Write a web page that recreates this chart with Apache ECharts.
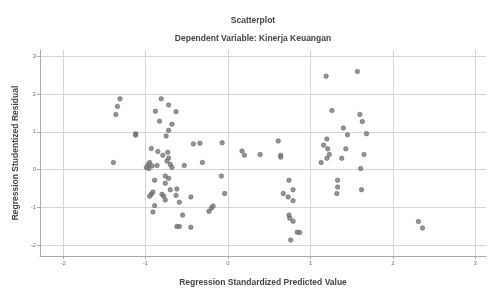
<!DOCTYPE html>
<html>
<head>
<meta charset="utf-8">
<script src="https://cdn.jsdelivr.net/npm/echarts@6/dist/echarts.min.js"></script>
<style>
  html, body { margin: 0; padding: 0; background: #fff; }
  #chart { width: 489px; height: 292px; }
</style>
</head>
<body>
<div id="chart"></div>
<script>
// predicted value (x) and studentized residual (y)
var predicted = [
    -1.31, -1.34, -1.36, -1.39, -1.12, -1.12,
    -0.81, -0.72, -0.88, -0.63, -0.83, -0.68, -0.72, -0.75, -0.93, -0.85,
    -0.73, -0.79, -0.72, -0.74, -0.42, -0.34, -0.07, 0.17, 0.20, -0.95,
    -0.97, -0.99, -0.96, -0.92, -0.86, -0.68, -0.70, -0.53, -0.31, -0.08,
    -0.76, -0.72, -0.89, -0.76, -0.70, -0.62, -0.91, -0.93, -0.95, -0.80,
    -0.78, -0.63, -0.76, -0.45, -0.04, -0.59, -0.89, -0.91, -0.20, -0.23,
    -0.18, -0.55, -0.62, -0.59, -0.45,
    1.19, 1.57, 1.26, 1.60, 1.63, 1.40, 1.45, 1.68, 1.20, 0.61,
    0.39, 0.64, 0.64, 1.16, 1.21, 1.43, 1.23, 1.65, 1.20, 1.38,
    1.13, 1.61, 0.74, 0.79, 0.67, 0.73, 0.79, 1.33, 1.33, 1.32,
    1.62, 0.74, 0.75, 0.79, 0.84, 0.87, 0.76, 2.31, 2.36
];
var residual = [
    1.87, 1.67, 1.46, 0.19, 0.95, 0.91,
    1.87, 1.71, 1.54, 1.53, 1.28, 1.20, 1.04, 0.89, 0.56, 0.48,
    0.46, 0.38, 0.31, 0.23, 0.68, 0.70, 0.71, 0.49, 0.38, 0.19,
    0.13, 0.06, 0.03, 0.10, 0.11, 0.06, 0.14, 0.11, 0.19, -0.17,
    -0.17, -0.23, -0.28, -0.36, -0.53, -0.51, -0.59, -0.65, -0.70, -0.65,
    -0.70, -0.68, -0.80, -0.72, -0.63, -0.86, -0.95, -1.12, -1.01, -1.10,
    -0.96, -1.20, -1.50, -1.50, -1.52,
    2.47, 2.59, 1.56, 1.46, 1.27, 1.10, 0.92, 0.95, 0.81, 0.76,
    0.40, 0.38, 0.33, 0.65, 0.55, 0.55, 0.40, 0.40, 0.30, 0.30,
    0.19, 0.03, -0.28, -0.53, -0.63, -0.72, -0.82, -0.28, -0.46, -0.63,
    -0.53, -1.20, -1.28, -1.36, -1.65, -1.66, -1.86, -1.37, -1.54
];
var xTicks = [-2, -1, 0, 1, 2, 3];
var yTicks = [-2, -1, 0, 1, 2, 3];

var points = predicted.map(function (x, i) { return [x, residual[i]]; });

var chart = echarts.init(document.getElementById('chart'));

var textFont = { fontFamily: 'Liberation Sans', fontSize: 8.5, fontWeight: 'bold', color: '#444' };

var axisCommon = {
    type: 'value',
    nameLocation: 'middle',
    nameTextStyle: textFont,
    axisLine: { show: true, onZero: false, lineStyle: { color: '#aaa', width: 1 } },
    axisTick: { show: true, length: 3, lineStyle: { color: '#aaa' } },
    axisLabel: { fontFamily: 'Liberation Sans', fontSize: 6, color: '#777', margin: 4 },
    splitLine: { show: true, lineStyle: { color: '#d6d6d6', width: 1 } }
};

chart.setOption({
    animation: false,
    title: [
        { text: 'Scatterplot', left: 253, top: 16, padding: 0, textAlign: 'center', textStyle: textFont },
        { text: 'Dependent Variable: Kinerja Keuangan', left: 253, top: 34, padding: 0, textAlign: 'center', textStyle: textFont }
    ],
    grid: { left: 40, right: 3, top: 50, bottom: 27, containLabel: false },
    xAxis: Object.assign({}, axisCommon, {
        name: 'Regression Standardized Predicted Value',
        nameGap: 22,
        min: -2.28, max: 3.13,
        axisTick: Object.assign({}, axisCommon.axisTick, { customValues: xTicks }),
        axisLabel: Object.assign({}, axisCommon.axisLabel, { customValues: xTicks })
    }),
    yAxis: Object.assign({}, axisCommon, {
        name: 'Regression Studentized Residual',
        nameGap: 17,
        min: -2.28, max: 3.16,
        axisTick: Object.assign({}, axisCommon.axisTick, { customValues: yTicks }),
        axisLabel: Object.assign({}, axisCommon.axisLabel, { customValues: yTicks })
    }),
    series: [{
        type: 'scatter',
        data: points,
        symbolSize: 4.5,
        itemStyle: { color: '#7a7a7a', borderColor: '#555', borderWidth: 0.6 }
    }]
});
</script>
</body>
</html>
